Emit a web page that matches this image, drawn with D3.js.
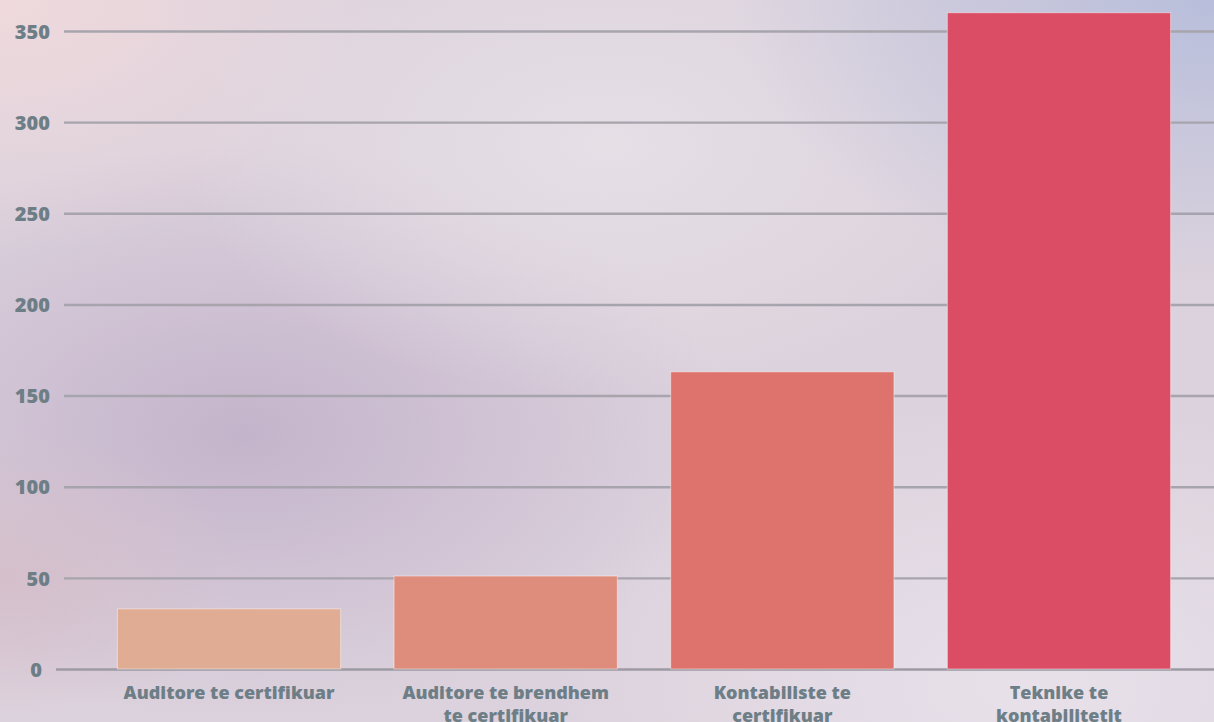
<!DOCTYPE html>
<html>
<head>
<meta charset="utf-8">
<script src="https://cdn.jsdelivr.net/npm/d3@7"></script>
<style>
  html, body { margin: 0; padding: 0; overflow: hidden; }
  svg { display: block; }
</style>
</head>
<body>
<svg width="1214" height="722"></svg>
<script>
const categories = ['Auditore te certifikuar', 'Auditore te brendhem te certifikuar', 'Kontabiliste te certifikuar', 'Teknike te kontabilitetit'];
const values = [33, 51, 163, 360];
const yTicks = [0, 50, 100, 150, 200, 250, 300, 350];
const barColors = ['#e1ac94', '#de8c7b', '#de726c', '#db4c65'];

const svg = d3.select('svg');
const width = Number(svg.attr('width')), height = Number(svg.attr('height'));
const fontFamily = '"Open Sans", Lato, sans-serif';

// background wash
const defs = svg.append('defs');
const blobs = [
    {id: 'b1', cx: 0.0, cy: 0.0, r: 0.35, c: '#efd9dc'},
    {id: 'b2', cx: 0.2, cy: 0.6, r: 0.4, c: '#c4b4cb'},
    {id: 'b6', cx: 0.0, cy: 0.8, r: 0.2, c: '#d5bfcb'},
    {id: 'b3', cx: 0.5, cy: 0.2, r: 0.35, c: '#e6dfe6'},
    {id: 'b4', cx: 1.0, cy: 0.0, r: 0.4, c: '#b8bedb'},
    {id: 'b5', cx: 0.85, cy: 0.95, r: 0.4, c: '#e8e1ea'}
];
svg.append('rect').attr('width', width).attr('height', height).attr('fill', '#dcd2dd');
blobs.forEach(b => {
    const g = defs.append('radialGradient').attr('id', b.id)
        .attr('cx', b.cx).attr('cy', b.cy).attr('r', b.r);
    g.append('stop').attr('offset', '0%').attr('stop-color', b.c).attr('stop-opacity', 1);
    g.append('stop').attr('offset', '100%').attr('stop-color', b.c).attr('stop-opacity', 0);
    svg.append('rect').attr('width', width).attr('height', height).attr('fill', `url(#${b.id})`);
});

const margin = {left: 64, right: -10, top: 31, bottom: 53};
const innerWidth = width - margin.left - margin.right;
const innerHeight = height - margin.top - margin.bottom;

const xScale = d3.scaleBand()
    .domain(categories)
    .range([0, innerWidth])
    .paddingInner(0.193)
    .paddingOuter(0.193);

const yScale = d3.scaleLinear()
    .domain([0, 350])
    .range([innerHeight, 0]);

const g = svg.append('g')
    .attr('transform', `translate(${margin.left},${margin.top})`);

// grid
const yAxis = g.append('g')
    .call(d3.axisLeft(yScale).tickValues(yTicks).tickSize(-innerWidth).tickPadding(14))
    .attr('font-family', fontFamily);
yAxis.select('.domain').remove();
yAxis.selectAll('.tick line')
    .attr('stroke', '#a7a4ad')
    .attr('stroke-width', 2.4)
    .attr('x1', d => d === 0 ? -8 : 0);
yAxis.selectAll('.tick')
    .filter(d => d === 0)
    .select('line').attr('stroke', '#9d9aa3');
yAxis.selectAll('.tick text')
    .attr('fill', '#6d7e86')
    .attr('font-size', 20)
    .attr('font-weight', 800)
    .attr('x', -14)
    .attr('dy', '0.36em');
yAxis.selectAll('.tick').filter(d => d === 0).select('text').attr('x', -22);

// bars
g.selectAll('rect.bar').data(categories)
    .enter().append('rect')
    .attr('class', 'bar')
    .attr('x', d => xScale(d))
    .attr('y', (d, i) => yScale(values[i]))
    .attr('width', xScale.bandwidth())
    .attr('height', (d, i) => innerHeight - yScale(values[i]))
    .attr('fill', (d, i) => barColors[i])
    .attr('stroke', 'rgba(255,255,255,0.45)')
    .attr('stroke-width', 1);

// category labels
const xAxis = g.append('g')
    .attr('transform', `translate(0,${innerHeight})`)
    .call(d3.axisBottom(xScale).tickSize(0).tickPadding(0))
    .attr('font-family', fontFamily);
xAxis.select('.domain').remove();
xAxis.selectAll('.tick text')
    .attr('fill', '#6d7e86')
    .attr('font-size', 18)
    .attr('font-weight', 800)
    .attr('y', 30)
    .attr('dy', 0)
    .call(wrap, xScale.bandwidth());

function wrap(texts, w) {
    texts.each(function() {
        const text = d3.select(this);
        const words = text.text().split(/\s+/);
        const y = text.attr('y');
        text.text(null);
        let line = [];
        let lineNo = 0;
        let tspan = text.append('tspan').attr('x', 0).attr('y', y);
        words.forEach(word => {
            line.push(word);
            tspan.text(line.join(' '));
            if (tspan.node().getComputedTextLength() > w && line.length > 1) {
                line.pop();
                tspan.text(line.join(' '));
                line = [word];
                lineNo++;
                tspan = text.append('tspan').attr('x', 0).attr('y', y)
                    .attr('dy', lineNo * 23).text(word);
            }
        });
    });
}
</script>
</body>
</html>
